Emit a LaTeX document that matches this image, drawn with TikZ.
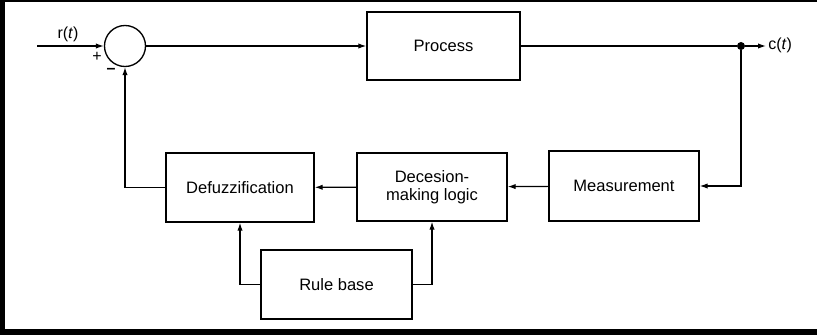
\documentclass[tikz,border=0pt]{standalone}
\usepackage{fontspec}
\setmainfont{Liberation Sans}
\usetikzlibrary{arrows.meta}

\tikzset{
  blockbox/.style={draw, line width=1pt, align=center, inner sep=0.75pt, font=\fontsize{12.4}{13.5}\selectfont},
  flow/.style={line width=0.9pt, -{Latex[length=6pt,width=4pt]}},
  wire/.style={line width=0.9pt},
  sign/.style={inner sep=0.75pt, font=\fontsize{12}{14}\selectfont}
}

\begin{document}
\begin{tikzpicture}[x=0.75pt,y=0.75pt,yscale=-1,xscale=1]
\useasboundingbox (0,0) rectangle (817,335);

%Shape: Frame
\fill (0,0) rectangle (5,335);
\fill (0,0) rectangle (817,2);
\fill (0,329) rectangle (817,335);

% Summing point
\node (sum) [draw, circle, line width=1pt, minimum size=30.75pt, inner sep=0pt] at (125,46) {};
\coordinate (in) at (37,46);
\coordinate (out) at (766,46);
\node (tap) [circle, fill, inner sep=0pt, minimum size=6pt] at (741,46) {};

% Blocks
\node (process) [blockbox, minimum width=114.75pt, minimum height=51pt] at (443.5,46) {Process};
\node (defuzz) [blockbox, minimum width=111pt, minimum height=51.75pt] at (240,187.5) {Defuzzification};
\node (decision) [blockbox, minimum width=112.5pt, minimum height=51pt] at (432,187) {Decesion-\\making logic};
\node (measure) [blockbox, minimum width=112.5pt, minimum height=52.5pt] at (624,186) {Measurement};
\node (rulebase) [blockbox, minimum width=113.25pt, minimum height=51.75pt] at (336.5,284.5) {Rule base};

% Text Node
\node (rlabel) [sign] at (68,34) {r(\textit{t})};
\node (plus) [sign] at (97,57) {+};
\node (minus) [sign] at (111,71) {\textbf{--}};
\node (clabel) [sign, anchor=west] at (767,45) {c(\textit{t})};

% Connectors
\draw [flow] (in) -- (sum);
\draw [flow] (sum) -- (process);
\draw [wire] (process) -- (tap);
\draw [flow] (tap) -- (out);
\draw [flow] (tap) |- (measure.east);
\draw [flow] (measure) -- (decision);
\draw [flow] (decision) -- (defuzz);
\draw [flow] (defuzz.west) -| (sum.south);
\draw [flow] (rulebase.west) -| (defuzz.south);
\draw [flow] (rulebase.east) -| (decision.south);

\end{tikzpicture}
\end{document}
